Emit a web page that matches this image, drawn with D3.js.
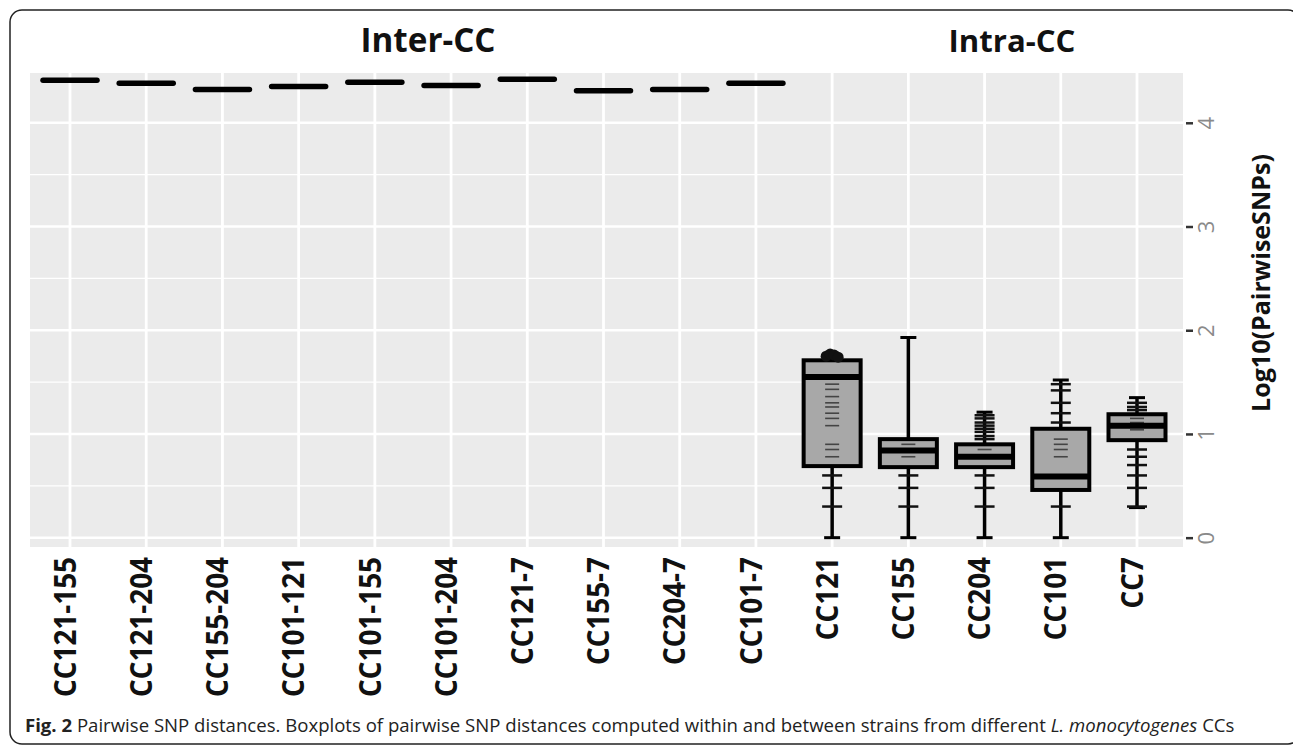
<!DOCTYPE html>
<html>
<head>
<meta charset="utf-8">
<script src="https://cdn.jsdelivr.net/npm/d3@7"></script>
<style>
  body { margin: 0; background: #fff; }
  svg { display: block; font-family: 'Open Sans', sans-serif; }
</style>
</head>
<body>
<svg id="chart" width="1293" height="747"></svg>
<script>
// categories
const interCats = ['CC121-155', 'CC121-204', 'CC155-204', 'CC101-121', 'CC101-155',
  'CC101-204', 'CC121-7', 'CC155-7', 'CC204-7', 'CC101-7'];
const intraCats = ['CC121', 'CC155', 'CC204', 'CC101', 'CC7'];
const allCats = interCats.concat(intraCats);

// inter-CC: boxes collapsed to a single line (log10 SNPs)
const interValues = [4.41, 4.38, 4.32, 4.35, 4.39, 4.36, 4.42, 4.31, 4.32, 4.38];

// intra-CC box stats (log10 SNPs)
const intraLow = [0, 0, 0, 0, 0.29];
const intraQ1 = [0.69, 0.68, 0.68, 0.46, 0.94];
const intraMedian = [1.55, 0.84, 0.78, 0.59, 1.08];
const intraQ3 = [1.71, 0.95, 0.90, 1.05, 1.19];
const intraHigh = [1.71, 1.93, 1.21, 1.52, 1.35];
const intraOutliers = [[1.75, 1.77, 1.76, 1.74], [], [], [], []];
// overplotted observations drawn as short dashes
const intraPoints = [
  [0.30, 0.48, 0.60, 0.78, 0.85, 0.90, 1.08, 1.15, 1.20, 1.26, 1.30, 1.36, 1.43, 1.48],
  [0.30, 0.48, 0.60, 0.78, 0.90],
  [0.30, 0.48, 0.60, 0.85, 0.95, 0.98, 1.02, 1.05, 1.08, 1.11, 1.15, 1.18],
  [0.30, 0.78, 0.85, 0.90, 0.95, 1.11, 1.20, 1.30, 1.42, 1.48],
  [0.30, 0.48, 0.60, 0.70, 0.78, 0.85, 1.04, 1.11, 1.15, 1.23, 1.26, 1.30]
];

const yTicks = [0, 1, 2, 3, 4];
const yMinor = [0.5, 1.5, 2.5, 3.5];

const svg = d3.select('#chart');

const panel = { left: 30, right: 1183, top: 73, bottom: 547 };

const x = d3.scalePoint().domain(allCats).range([70, 1137]);
const y = d3.scaleLinear().domain([-0.09, 4.48]).range([panel.bottom, panel.top]);

const fitWidth = (sel, target) => {
  const fs = parseFloat(sel.attr('font-size'));
  const w = sel.node().getComputedTextLength();
  sel.attr('font-size', fs * target / w);
};

// outer frame
svg.append('rect')
  .attr('x', 10).attr('y', 10)
  .attr('width', 1290).attr('height', 734)
  .attr('rx', 12)
  .attr('fill', 'none')
  .attr('stroke', '#222')
  .attr('stroke-width', 1.5);

// panel background and grid
svg.append('rect')
  .attr('x', panel.left).attr('y', panel.top)
  .attr('width', panel.right - panel.left)
  .attr('height', panel.bottom - panel.top)
  .attr('fill', '#ebebeb');

const grid = svg.append('g');
grid.selectAll('.minor')
  .data(yMinor)
  .enter()
  .append('line')
  .attr('x1', panel.left).attr('x2', panel.right)
  .attr('y1', d => y(d)).attr('y2', d => y(d))
  .attr('stroke', '#fff').attr('stroke-width', 1.3);
grid.selectAll('.major')
  .data(yTicks)
  .enter()
  .append('line')
  .attr('x1', panel.left).attr('x2', panel.right)
  .attr('y1', d => y(d)).attr('y2', d => y(d))
  .attr('stroke', '#fff').attr('stroke-width', 2.5);
grid.selectAll('.vert')
  .data(allCats)
  .enter()
  .append('line')
  .attr('x1', d => x(d)).attr('x2', d => x(d))
  .attr('y1', panel.top).attr('y2', panel.bottom)
  .attr('stroke', '#fff').attr('stroke-width', 2.8);

// inter-CC collapsed boxes
svg.append('g')
  .selectAll('line')
  .data(interCats)
  .enter()
  .append('line')
  .attr('x1', d => x(d) - 27)
  .attr('x2', d => x(d) + 27)
  .attr('y1', (d, i) => y(interValues[i]))
  .attr('y2', (d, i) => y(interValues[i]))
  .attr('stroke', '#000')
  .attr('stroke-width', 5.5)
  .attr('stroke-linecap', 'round');

// intra-CC boxplots
const boxW = 57;
const boxes = svg.append('g')
  .selectAll('g')
  .data(intraCats)
  .enter()
  .append('g')
  .attr('transform', d => `translate(${x(d)},0)`);

// whiskers
boxes.append('line')
  .attr('y1', (d, i) => y(intraHigh[i]))
  .attr('y2', (d, i) => y(intraLow[i]))
  .attr('stroke', '#000').attr('stroke-width', 3.5);
boxes.append('line')
  .attr('x1', -8).attr('x2', 8)
  .attr('y1', (d, i) => y(intraHigh[i]))
  .attr('y2', (d, i) => y(intraHigh[i]))
  .attr('stroke', '#000').attr('stroke-width', 3);
boxes.append('line')
  .attr('x1', -8).attr('x2', 8)
  .attr('y1', (d, i) => y(intraLow[i]))
  .attr('y2', (d, i) => y(intraLow[i]))
  .attr('stroke', '#000').attr('stroke-width', 3);

// box
boxes.append('rect')
  .attr('x', -boxW / 2).attr('width', boxW)
  .attr('y', (d, i) => y(intraQ3[i]))
  .attr('height', (d, i) => y(intraQ1[i]) - y(intraQ3[i]))
  .attr('fill', '#a8a8a8')
  .attr('stroke', '#000')
  .attr('stroke-width', 4);

// observations
boxes.each(function(d, i) {
  const outside = v => v < intraQ1[i] || v > intraQ3[i];
  d3.select(this).selectAll('.pt')
    .data(intraPoints[i])
    .enter()
    .append('line')
    .attr('x1', v => outside(v) ? -10 : -7)
    .attr('x2', v => outside(v) ? 10 : 7)
    .attr('y1', v => y(v)).attr('y2', v => y(v))
    .attr('stroke', v => outside(v) ? '#111' : '#444')
    .attr('stroke-width', v => outside(v) ? 2.5 : 1.6);
  d3.select(this).selectAll('.out')
    .data(intraOutliers[i])
    .enter()
    .append('circle')
    .attr('cx', (v, j) => (j - 1.5) * 4)
    .attr('cy', v => y(v))
    .attr('r', 5.5)
    .attr('fill', '#111');
});

// median
boxes.append('line')
  .attr('x1', -boxW / 2).attr('x2', boxW / 2)
  .attr('y1', (d, i) => y(intraMedian[i]))
  .attr('y2', (d, i) => y(intraMedian[i]))
  .attr('stroke', '#000').attr('stroke-width', 6);

// right y axis
const yAxis = svg.append('g')
  .attr('transform', `translate(${panel.right + 3},0)`)
  .call(d3.axisRight(y).tickValues(yTicks).tickSize(7).tickFormat(d3.format('d')));
yAxis.select('.domain').remove();
yAxis.selectAll('.tick line').attr('stroke', '#333').attr('stroke-width', 2.5);
yAxis.selectAll('.tick text')
  .attr('x', 0)
  .attr('transform', 'translate(20,0) rotate(-90)')
  .attr('text-anchor', 'middle')
  .attr('dy', '0.35em')
  .attr('fill', '#8a8a8a')
  .attr('font-size', 22)
  .attr('font-family', 'Open Sans, sans-serif');

// y axis title
const yTitle = svg.append('text')
  .attr('transform', 'translate(1261,283) rotate(-90)')
  .attr('text-anchor', 'middle')
  .attr('dy', '0.35em')
  .attr('font-weight', 700)
  .attr('font-size', 24)
  .attr('fill', '#111')
  .text('Log10(PairwiseSNPs)');
fitWidth(yTitle, 258);

// x axis labels (bold, slightly condensed)
const xAxis = svg.append('g')
  .attr('transform', 'translate(-6,557)')
  .call(d3.axisBottom(x).tickSize(0));
xAxis.select('.domain').remove();
const labelSize = 31;
const xTexts = xAxis.selectAll('.tick text')
  .attr('x', 0).attr('y', 0)
  .attr('dy', '0.36em')
  .attr('text-anchor', 'end')
  .attr('font-size', labelSize)
  .attr('font-weight', 700)
  .attr('font-family', 'Open Sans, sans-serif')
  .attr('fill', '#111');
const labelW = xAxis.select('.tick text').node().getComputedTextLength();
xTexts.attr('transform', `rotate(-90) scale(${140 / labelW},1)`);

// facet titles
const interTitle = svg.append('text')
  .attr('x', 428).attr('y', 52)
  .attr('text-anchor', 'middle')
  .attr('font-weight', 700)
  .attr('font-size', 30)
  .attr('fill', '#111')
  .text('Inter-CC');
fitWidth(interTitle, 135);
const intraTitle = svg.append('text')
  .attr('x', 1012).attr('y', 52)
  .attr('text-anchor', 'middle')
  .attr('font-weight', 700)
  .attr('font-size', 30)
  .attr('fill', '#111')
  .text('Intra-CC');
fitWidth(intraTitle, 127);

// caption
const caption = svg.append('text')
  .attr('x', 25).attr('y', 732)
  .attr('font-size', 17)
  .attr('fill', '#222');
caption.append('tspan').attr('font-weight', 700).text('Fig. 2');
caption.append('tspan').text(' Pairwise SNP distances. Boxplots of pairwise SNP distances computed within and between strains from different ');
caption.append('tspan').attr('font-style', 'italic').text('L. monocytogenes');
caption.append('tspan').text(' CCs');
fitWidth(caption, 1210);
</script>
</body>
</html>
